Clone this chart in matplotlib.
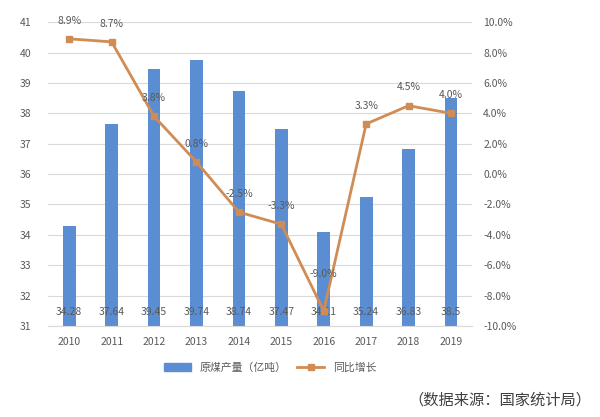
import matplotlib.pyplot as plt
import numpy as np

plt.rcParams['font.family'] = ['Noto Sans CJK SC', 'DejaVu Sans']

years = ['2010', '2011', '2012', '2013', '2014', '2015', '2016', '2017', '2018', '2019']
output = [34.28, 37.64, 39.45, 39.74, 38.74, 37.47, 34.11, 35.24, 36.83, 38.5]
growth = [8.9, 8.7, 3.8, 0.8, -2.5, -3.3, -9.0, 3.3, 4.5, 4.0]

bar_color = '#5B8DD3'
line_color = '#D08C55'
text_color = '#595959'

fig = plt.figure(figsize=(6, 4.17), dpi=100)
ax = fig.add_axes([0.08, 0.218, 0.707, 0.729])
ax2 = ax.twinx()

x = np.arange(len(years))
ax.bar(x, output, width=0.3, color=bar_color, bottom=0, zorder=2)
ax.set_ylim(31, 41)
ax.set_yticks(range(31, 42))
ax.set_xlim(-0.5, len(years) - 0.5)
ax.set_xticks(x)
ax.set_xticklabels(years)
ax.grid(axis='y', color='#D9D9D9', linewidth=0.8, zorder=0)
for i, v in enumerate(output):
    ax.text(x[i], 31.45, f'{v:g}', ha='center', va='center', fontsize=7.5, color=text_color, zorder=5)

ax2.plot(x, growth, color=line_color, linewidth=2, marker='s', markersize=4, zorder=4)
ax2.set_ylim(-10, 10)
ax2.set_yticks(range(-10, 11, 2))
ax2.set_yticklabels([f'{t:.1f}%' for t in range(-10, 11, 2)])
for i, g in enumerate(growth):
    off = 2.4 if g < -8 else 1.2
    ax2.text(x[i], g + off, f'{g:.1f}%', ha='center', va='center', fontsize=7.5, color=text_color, zorder=6)

for a in (ax, ax2):
    for s in a.spines.values():
        s.set_visible(False)
    a.tick_params(length=0, labelsize=7.5, colors=text_color)
ax.spines['bottom'].set_visible(True)
ax.spines['bottom'].set_color('#D9D9D9')
ax.tick_params(axis='y', pad=12)
ax.tick_params(axis='x', pad=8)
ax2.tick_params(axis='y', pad=8)

h1 = plt.Rectangle((0, 0), 1, 1, color=bar_color)
h2 = plt.Line2D([], [], color=line_color, linewidth=2, marker='s', markersize=4)
fig.legend([h1, h2], ['原煤产量（亿吨）', '同比增长'], loc='center', bbox_to_anchor=(0.45, 0.118),
           ncol=2, frameon=False, fontsize=7.8, labelcolor=text_color, handlelength=2.5, columnspacing=1.0)

fig.text(0.985, 0.04, '（数据来源：国家统计局）', ha='right', va='center', fontsize=11, color='#404040')

fig.savefig('out.png', dpi=100)
